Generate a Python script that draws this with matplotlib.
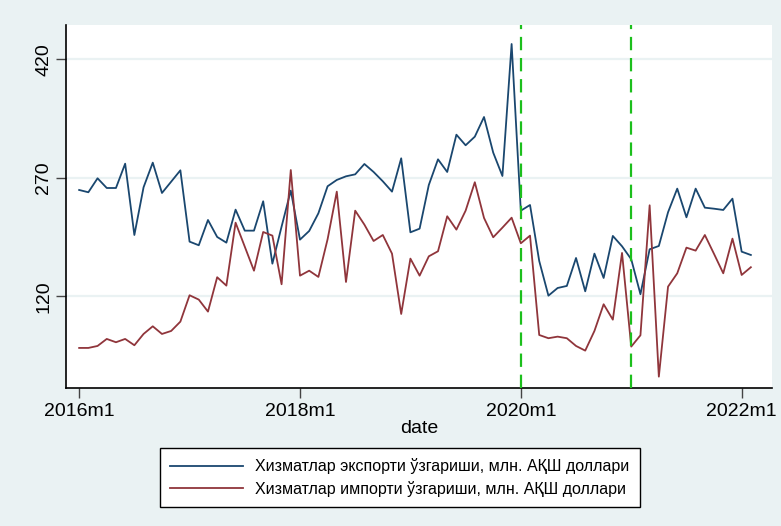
import matplotlib
matplotlib.use("Agg")
import matplotlib.pyplot as plt
import numpy as np

plt.rcParams['font.family'] = ['Liberation Sans', 'DejaVu Sans']

# monthly series, 2016m1 .. 2022m2
export_vals = [
    254.8, 251.9, 269.6, 257.3, 257.3, 288.1, 197.8, 258.2, 289.4, 251.0, 265.3, 279.7,
    189.4, 184.8, 216.8, 195.3, 188.1, 229.9, 203.3, 203.3, 240.5, 161.5, 208.4, 254.0,
    191.9, 202.9, 225.3, 259.5, 267.5, 272.1, 274.6, 287.7, 277.6, 265.8, 252.7, 294.9,
    201.2, 205.8, 261.1, 293.6, 277.6, 324.8, 311.4, 322.3, 347.2, 302.1, 272.5, 439.6,
    228.6, 235.8, 164.9, 121.0, 130.7, 133.3, 168.7, 126.5, 174.2, 143.4, 196.6, 183.5,
    167.1, 122.8, 179.7, 183.9, 226.6, 256.5, 220.2, 256.5, 232.4, 231.1, 229.5, 243.8,
    176.7, 172.5,
]
import_vals = [
    54.8, 54.8, 57.3, 66.2, 62.0, 66.2, 58.2, 72.5, 82.2, 72.5, 76.3, 88.1,
    121.5, 116.0, 100.8, 144.3, 133.7, 213.4, 183.0, 152.6, 201.6, 197.0, 135.4, 280.1,
    146.3, 152.6, 144.7, 192.4, 252.7, 138.3, 228.6, 210.9, 190.2, 197.8, 174.2, 97.8,
    167.9, 146.3, 170.8, 177.2, 221.5, 204.6, 228.6, 264.6, 219.4, 194.9, 207.1, 219.7,
    187.3, 197.0, 71.2, 67.1, 69.1, 67.1, 57.3, 51.4, 76.3, 110.1, 90.6, 175.1,
    56.5, 70.8, 235.4, 18.4, 132.4, 149.3, 181.8, 178.0, 197.8, 173.8, 149.3, 193.2,
    147.2, 157.0,
]
export_label = "Хизматлар экспорти ўзгариши, млн. АҚШ доллари"
import_label = "Хизматлар импорти ўзгариши, млн. АҚШ доллари"

xtick_pos = [0, 24, 48, 72]
xtick_labels = ["2016m1", "2018m1", "2020m1", "2022m1"]
yticks = [120, 270, 420]
event_months = [48, 60]  # 2020m1, 2021m1

bg = "#eaf2f3"
months = np.arange(len(export_vals))

fig = plt.figure(figsize=(7.81, 5.26), dpi=100, facecolor=bg)
ax = fig.add_axes([0.0845, 0.2624, 0.904, 0.6901])
ax.set_facecolor("white")

for yv in yticks:
    ax.axhline(yv, color=bg, lw=1.6, zorder=0)

ax.plot(months, export_vals, color="#1a476f", lw=1.3, label=export_label, zorder=3)
ax.plot(months, import_vals, color="#90353b", lw=1.3, label=import_label, zorder=3)

for m in event_months:
    ax.axvline(m, color="#1cbf1c", lw=1.6, linestyle=(0, (6, 3.5)), zorder=4)

ax.set_xlim(-1.43, 75.3)
ax.set_ylim(4.1, 463.7)

ax.set_xticks(xtick_pos)
ax.set_xticklabels(xtick_labels)
ax.set_yticks(yticks)
ax.set_yticklabels([str(v) for v in yticks], rotation=90, va="center")
ax.tick_params(axis="both", labelsize=14, length=7, width=1, color="#444444", pad=4)
ax.tick_params(axis="y", pad=3)
ax.set_xlabel("date", fontsize=14, labelpad=0)

for side in ["top", "right"]:
    ax.spines[side].set_visible(False)
for side in ["left", "bottom"]:
    ax.spines[side].set_color("black")
    ax.spines[side].set_linewidth(1.2)

leg = fig.legend(loc="center", bbox_to_anchor=(0.512, 0.092), fontsize=11.5,
                 handlelength=4.55, handletextpad=0.75, labelspacing=0.4,
                 borderpad=0.65, borderaxespad=0, fancybox=False, framealpha=1,
                 edgecolor="black")
leg.get_frame().set_linewidth(1.0)
for line in leg.get_lines():
    line.set_linewidth(1.3)

fig.savefig("out.png", dpi=100, facecolor=bg)
